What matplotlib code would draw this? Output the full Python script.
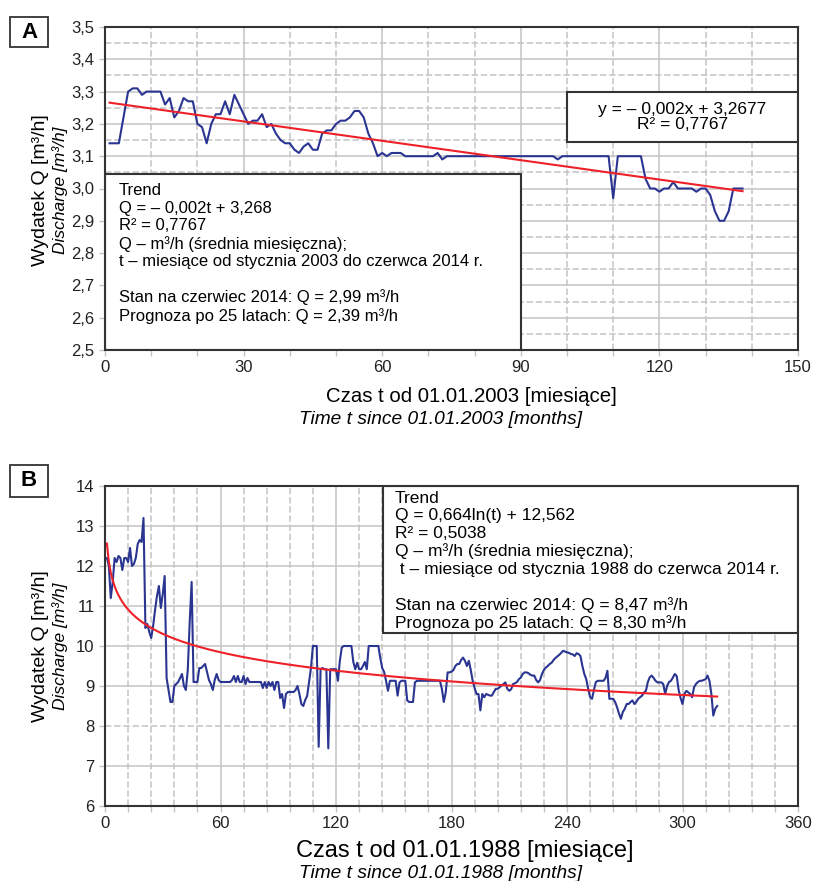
import matplotlib
matplotlib.use('Agg')
import matplotlib.pyplot as plt
import numpy as np
from matplotlib.patches import Rectangle
from matplotlib.ticker import MultipleLocator, FuncFormatter

plt.rcParams['font.family'] = ['Liberation Sans', 'DejaVu Sans']

# ---------------- Data: panel A (monthly, Jan 2003 - Jun 2014) ----------------
discharge_a = [
    3.14, 3.14, 3.14, 3.22, 3.30, 3.31, 3.31, 3.29, 3.30, 3.30, 3.30, 3.30,
    3.26, 3.28, 3.22, 3.24, 3.28, 3.27, 3.27, 3.20, 3.19, 3.14, 3.20, 3.23,
    3.23, 3.27, 3.23, 3.29, 3.26, 3.23, 3.20, 3.21, 3.21, 3.23, 3.19, 3.20,
    3.17, 3.15, 3.14, 3.14, 3.12, 3.11, 3.13, 3.14, 3.12, 3.12, 3.17, 3.18,
    3.18, 3.20, 3.21, 3.21, 3.22, 3.24, 3.24, 3.22, 3.17, 3.14, 3.10, 3.11,
    3.10, 3.11, 3.11, 3.11, 3.10, 3.10, 3.10, 3.10, 3.10, 3.10, 3.10, 3.11,
    3.09, 3.10, 3.10, 3.10, 3.10, 3.10, 3.10, 3.10, 3.10, 3.10, 3.10, 3.10,
    3.10, 3.10, 3.10, 3.10, 3.10, 3.10, 3.10, 3.10, 3.10, 3.10, 3.10, 3.10,
    3.10, 3.09, 3.10, 3.10, 3.10, 3.10, 3.10, 3.10, 3.10, 3.10, 3.10, 3.10,
    3.10, 2.97, 3.10, 3.10, 3.10, 3.10, 3.10, 3.10, 3.03, 3.00, 3.00, 2.99,
    3.00, 3.00, 3.02, 3.00, 3.00, 3.00, 3.00, 2.99, 3.00, 3.00, 2.98, 2.93,
    2.90, 2.90, 2.93, 3.00, 3.00, 3.00,
]
trend_a = (-0.002, 3.2677)

# ---------------- Data: panel B (monthly, Jan 1988 - Jun 2014) ----------------
discharge_b = [
    12.2, 12.0, 11.2, 11.6, 12.2, 12.1, 12.25, 12.2, 11.9, 12.2, 12.2, 12.1,
    12.45, 12.0, 12.05, 12.2, 12.55, 12.65, 12.6, 13.2, 10.45, 10.55, 10.35, 10.2,
    10.5, 10.9, 11.25, 11.5, 10.95, 11.3, 11.75, 9.2, 8.9, 8.6, 8.6, 9.0,
    9.05, 9.1, 9.2, 9.3, 9.0, 8.9, 9.4, 10.6, 11.6, 9.1, 9.1, 9.1,
    9.45, 9.45, 9.5, 9.55, 9.35, 9.15, 9.05, 8.9, 9.15, 9.3, 9.15, 9.1,
    9.1, 9.1, 9.1, 9.1, 9.1, 9.15, 9.25, 9.1, 9.25, 9.1, 9.1, 9.25,
    9.05, 9.2, 9.1, 9.1, 9.1, 9.1, 9.1, 9.1, 9.1, 8.95, 9.1, 8.95,
    9.1, 9.0, 9.1, 8.9, 9.1, 9.1, 8.7, 8.8, 8.45, 8.8, 8.85, 8.85,
    8.85, 8.85, 8.9, 9.0, 8.8, 8.55, 8.5, 8.65, 8.75, 9.1, 9.45, 10.0,
    10.0, 10.0, 7.48, 9.42, 9.45, 9.42, 9.42, 7.44, 9.42, 9.42, 9.42, 9.42,
    9.13, 9.63, 9.96, 10.0, 10.0, 10.0, 10.0, 10.0, 9.6, 9.42, 9.58, 9.42,
    9.42, 9.5, 9.6, 9.42, 10.0, 10.0, 10.0, 10.0, 10.0, 10.0, 9.7, 9.45,
    9.35, 9.13, 8.88, 9.13, 9.13, 9.13, 9.13, 8.76, 9.09, 9.13, 9.13, 9.13,
    8.64, 8.6, 8.6, 8.6, 9.09, 9.13, 9.13, 9.13, 9.13, 9.13, 9.13, 9.13,
    9.13, 9.13, 9.13, 9.13, 9.13, 9.13, 8.93, 8.6, 8.84, 9.34, 9.34, 9.36,
    9.4, 9.5, 9.55, 9.55, 9.65, 9.71, 9.63, 9.5, 9.63, 9.4, 9.13, 8.95,
    8.8, 8.8, 8.39, 8.8, 8.72, 8.8, 8.78, 8.76, 8.76, 8.85, 8.93, 8.93,
    8.97, 9.01, 9.05, 9.09, 8.93, 8.88, 8.92, 9.05, 9.07, 9.1, 9.17, 9.21,
    9.3, 9.34, 9.34, 9.32, 9.28, 9.26, 9.26, 9.15, 9.09, 9.15, 9.3, 9.4,
    9.46, 9.5, 9.55, 9.58, 9.65, 9.7, 9.74, 9.78, 9.83, 9.88, 9.86, 9.84,
    9.83, 9.8, 9.79, 9.75, 9.82, 9.8, 9.75, 9.5, 9.3, 9.17, 8.93, 8.72,
    8.68, 8.9, 9.1, 9.13, 9.13, 9.13, 9.13, 9.2, 9.38, 8.68, 8.68, 8.68,
    8.6, 8.47, 8.31, 8.18, 8.35, 8.43, 8.55, 8.55, 8.6, 8.64, 8.55, 8.6,
    8.68, 8.72, 8.76, 8.84, 8.88, 9.1, 9.22, 9.26, 9.2, 9.13, 9.09, 9.09,
    9.09, 9.05, 8.8, 9.0, 9.1, 9.13, 9.21, 9.3, 9.25, 8.9, 8.7, 8.55,
    8.8, 8.88, 8.84, 8.8, 8.72, 8.97, 9.05, 9.1, 9.13, 9.13, 9.15, 9.17,
    9.26, 9.13, 8.8, 8.26, 8.43, 8.5,
]
trend_b = (-0.664, 12.562)

# ---------------- Text ----------------
box_a_lines = [
    "Trend",
    "Q = – 0,002t + 3,268",
    "R² = 0,7767",
    "Q – m³/h (średnia miesięczna);",
    "t – miesiące od stycznia 2003 do czerwca 2014 r.",
    "",
    "Stan na czerwiec 2014: Q = 2,99 m³/h",
    "Prognoza po 25 latach: Q = 2,39 m³/h",
]
eq_a_lines = ["y = – 0,002x + 3,2677", "R² = 0,7767"]
box_b_lines = [
    "Trend",
    "Q = 0,664ln(t) + 12,562",
    "R² = 0,5038",
    "Q – m³/h (średnia miesięczna);",
    " t – miesiące od stycznia 1988 do czerwca 2014 r.",
    "",
    "Stan na czerwiec 2014: Q = 8,47 m³/h",
    "Prognoza po 25 latach: Q = 8,30 m³/h",
]

GRID = '#c4c4c4'
DASH = (0, (4.2, 1.8))
BLUE = '#2a3592'
RED = '#ee2028'
SPINE = '#333333'

W, H = 814, 881
fig = plt.figure(figsize=(W / 100, H / 100), dpi=100)


def fig_rect(l, t, r, b):
    return [l / W, 1 - b / H, (r - l) / W, (b - t) / H]


def style_axes(ax):
    for s in ax.spines.values():
        s.set_color(SPINE)
        s.set_linewidth(1.5)
        s.set_zorder(6)
    ax.tick_params(which='both', direction='out', color=GRID, width=1.0,
                   labelsize=12, labelcolor='#222222')
    ax.tick_params(which='major', length=4)
    ax.tick_params(which='minor', length=4)


# ================= Panel A =================
axA = fig.add_axes(fig_rect(105, 27, 798, 350))
tA = np.arange(1, len(discharge_a) + 1)
axA.set_xlim(0, 150)
axA.set_ylim(2.5, 3.5)
for x in range(10, 150, 10):
    axA.axvline(x, color=GRID, lw=1.1, ls='-' if x % 30 == 0 else DASH, zorder=0)
for i in range(1, 20):
    y = 2.5 + i * 0.05
    axA.axhline(y, color=GRID, lw=1.1, ls='-' if i % 2 == 0 else DASH, zorder=0)
axA.plot(tA, discharge_a, color=BLUE, lw=1.5, zorder=4)
axA.plot(tA, trend_a[0] * tA + trend_a[1], color=RED, lw=1.5, zorder=5)
axA.xaxis.set_major_locator(MultipleLocator(30))
axA.xaxis.set_minor_locator(MultipleLocator(10))
axA.yaxis.set_major_locator(MultipleLocator(0.1))
axA.yaxis.set_major_formatter(FuncFormatter(lambda v, p: f"{v:.1f}".replace('.', ',')))
style_axes(axA)

axA.add_patch(Rectangle((0, 2.5), 90, 0.545, facecolor='white', edgecolor=SPINE,
                        lw=1.5, zorder=3))
fig.text(119 / W, 1 - 183 / H, "\n".join(box_a_lines), fontsize=12,
         va='top', ha='left', linespacing=1.21, zorder=7)
axA.add_patch(Rectangle((100, 3.144), 50, 0.155, facecolor='white', edgecolor=SPINE,
                        lw=1.5, zorder=3))
axA.text(125, 3.2215, "\n".join(eq_a_lines), fontsize=12.5, ha='center',
         va='center', linespacing=1.05, zorder=7)

fig.text(471 / W, 1 - 397 / H, "Czas t od 01.01.2003 [miesiące]", fontsize=14.7,
         ha='center', va='center')
fig.text(441 / W, 1 - 419 / H, "Time t since 01.01.2003 [months]", fontsize=13.8,
         style='italic', ha='center', va='center')
fig.text(41 / W, 1 - 190 / H, "Wydatek Q [m³/h]", fontsize=14, rotation=90,
         ha='center', va='center')
fig.text(60 / W, 1 - 190 / H, "Discharge [m³/h]", fontsize=12.5, rotation=90,
         style='italic', ha='center', va='center')

# ================= Panel B =================
axB = fig.add_axes(fig_rect(105, 486, 798, 806))
tB = np.arange(1, len(discharge_b) + 1)
axB.set_xlim(0, 360)
axB.set_ylim(6, 14)
for x in range(12, 360, 12):
    axB.axvline(x, color=GRID, lw=1.1, ls='-' if x % 60 == 0 else DASH, zorder=0)
for y in range(7, 14):
    axB.axhline(y, color=GRID, lw=1.1, ls=DASH if y == 8 else '-', zorder=0)
axB.plot(tB, discharge_b, color=BLUE, lw=1.5, zorder=4)
axB.plot(tB, trend_b[0] * np.log(tB) + trend_b[1], color=RED, lw=1.5, zorder=5)
axB.xaxis.set_major_locator(MultipleLocator(60))
axB.xaxis.set_minor_locator(MultipleLocator(12))
axB.yaxis.set_major_locator(MultipleLocator(1))
style_axes(axB)

axB.add_patch(Rectangle((144.3, 10.33), 215.7, 3.67, facecolor='white', edgecolor=SPINE,
                        lw=1.5, zorder=3))
fig.text(395 / W, 1 - 491 / H, "\n".join(box_b_lines), fontsize=12.5,
         va='top', ha='left', linespacing=1.2, zorder=7)

fig.text(465 / W, 1 - 851 / H, "Czas t od 01.01.1988 [miesiące]", fontsize=17,
         ha='center', va='center')
fig.text(441 / W, 1 - 873 / H, "Time t since 01.01.1988 [months]", fontsize=13.8,
         style='italic', ha='center', va='center')
fig.text(41 / W, 1 - 646 / H, "Wydatek Q [m³/h]", fontsize=14, rotation=90,
         ha='center', va='center')
fig.text(60 / W, 1 - 646 / H, "Discharge [m³/h]", fontsize=12.5, rotation=90,
         style='italic', ha='center', va='center')

# Panel letters
for letter, top, bot in (("A", 17, 47), ("B", 465, 497)):
    fig.patches.append(Rectangle((10 / W, 1 - bot / H), 38 / W, (bot - top) / H,
                                 transform=fig.transFigure, facecolor='white',
                                 edgecolor=SPINE, lw=1.3))
    fig.text(29 / W, 1 - (top + bot) / 2 / H, letter, fontsize=16, fontweight='bold',
             ha='center', va='center')

fig.savefig('out.png', dpi=100)
